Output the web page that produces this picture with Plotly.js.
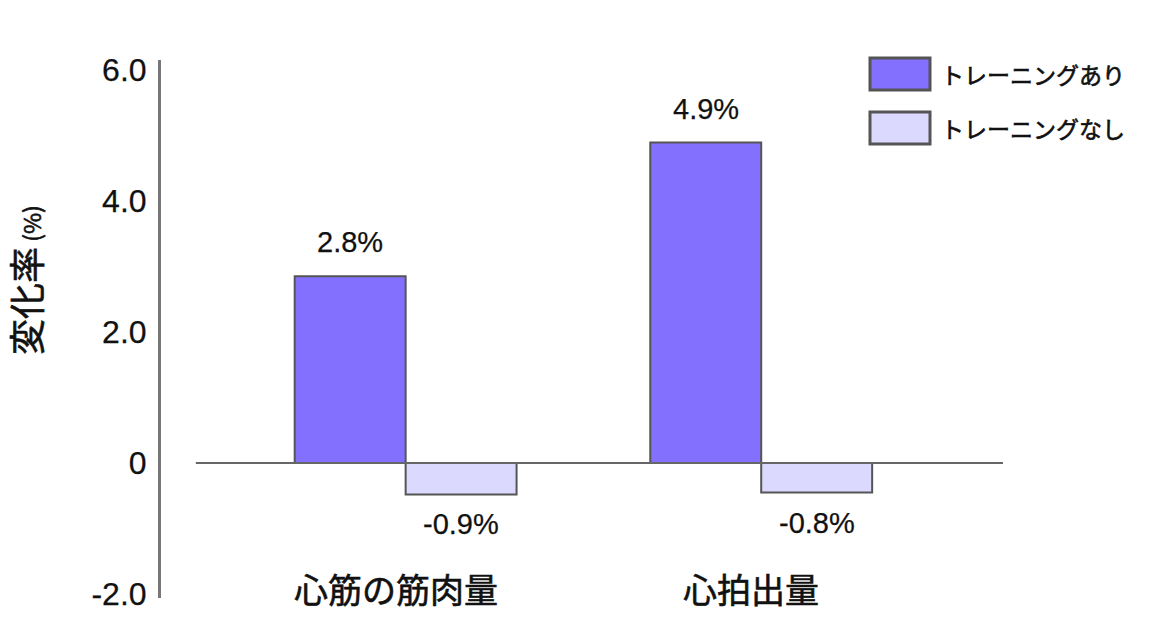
<!DOCTYPE html>
<html><head><meta charset="utf-8">
<script src="https://cdn.plot.ly/plotly-3.0.1.min.js"></script>
<style>html,body{margin:0;padding:0;background:#fff}#chart{width:1170px;height:639px}
#chart text{stroke:#111;stroke-width:0.6px;paint-order:stroke}
#chart text[style*="Liberation"]{stroke-width:0.25px}</style>
</head><body><div id="chart"></div>
<script>
// Data
var categories = ['心筋の筋肉量', '心拍出量'];
var seriesNames = ['トレーニングあり', 'トレーニングなし'];
var withTraining = [2.85, 4.89];
var withoutTraining = [-0.48, -0.45];
var withLabels = ['2.8%', '4.9%'];
var withoutLabels = ['-0.9%', '-0.8%'];
var yTickVals = [-2, 0, 2, 4, 6];
var yTickText = ['-2.0', '0', '2.0', '4.0', '6.0'];

var colors = ['#8470FF', '#DCD9FF'];
var edge = '#555555';
var jp = '"Noto Sans CJK JP", "Noto Sans", sans-serif';
var lat = '"Liberation Sans", Arial, sans-serif';

var xpos = categories.map(function(c, i){ return i; });
var barW = 0.312;

var traces = [
  {type:'bar', x:xpos, y:withTraining, name:seriesNames[0], width:barW, offset:-barW,
   marker:{color:colors[0], line:{color:edge, width:2}}, showlegend:false, hoverinfo:'none'},
  {type:'bar', x:xpos, y:withoutTraining, name:seriesNames[1], width:barW, offset:0,
   marker:{color:colors[1], line:{color:edge, width:2}}, showlegend:false, hoverinfo:'none'}
];

var annotations = [];
xpos.forEach(function(x, i){
  annotations.push({x:x - barW/2, y:withTraining[i], xref:'x', yref:'y', text:withLabels[i],
    showarrow:false, yanchor:'bottom', yshift:16, font:{family:lat, size:29, color:'#111'}});
  annotations.push({x:x + barW/2, y:withoutTraining[i], xref:'x', yref:'y', text:withoutLabels[i],
    showarrow:false, yanchor:'top', yshift:-12, font:{family:lat, size:29, color:'#111'}});
  annotations.push({x:x, y:-2, xref:'x', yref:'y', text:categories[i], showarrow:false,
    xshift:-10, yshift:6, yanchor:'middle', font:{family:jp, size:34, color:'#111'}});
});

// y-axis title (drawn as rotated annotation to match position)
annotations.push({xref:'paper', yref:'paper', x:(25-161)/842, y:(598-280)/538, xanchor:'center', yanchor:'middle',
  textangle:-90, showarrow:false,
  text:'変化率<span style="font-size:23px"> (%)</span>',
  font:{family:jp, size:36, color:'#111'}});

// legend (drawn)
var shapes = [
  {type:'line', xref:'x', yref:'y', x0:-0.59, x1:1.68, y0:0, y1:0, line:{color:'#666', width:2}}
];
var legY = [74, 128];
seriesNames.forEach(function(n, i){
  shapes.push({type:'rect', xref:'paper', yref:'paper',
    x0:(870-161)/842, x1:(930-161)/842, y0:(598-(legY[i]-16))/538, y1:(598-(legY[i]+16))/538,
    fillcolor:colors[i], line:{color:edge, width:3}});
  annotations.push({xref:'paper', yref:'paper', x:(939-161)/842, y:(598-legY[i])/538,
    xanchor:'left', yanchor:'middle', text:n, showarrow:false, font:{family:jp, size:23, color:'#111'}});
});

var layout = {
  width:1170, height:639,
  margin:{l:161, r:167, t:60, b:41},
  paper_bgcolor:'#fff', plot_bgcolor:'#fff',
  xaxis:{range:[-0.688, 1.68], showticklabels:false, showgrid:false, zeroline:false, showline:false, ticks:''},
  yaxis:{range:[-2.06, 6.15], tickvals:yTickVals, ticktext:yTickText, showgrid:false, zeroline:false,
    showline:true, linecolor:'#777', linewidth:3, ticks:'outside', ticklen:5, tickcolor:'rgba(0,0,0,0)',
    tickfont:{family:lat, size:32, color:'#111'}},
  shapes:shapes,
  annotations:annotations,
  showlegend:false
};
Plotly.newPlot('chart', traces, layout, {displayModeBar:false, staticPlot:true});
</script></body></html>
